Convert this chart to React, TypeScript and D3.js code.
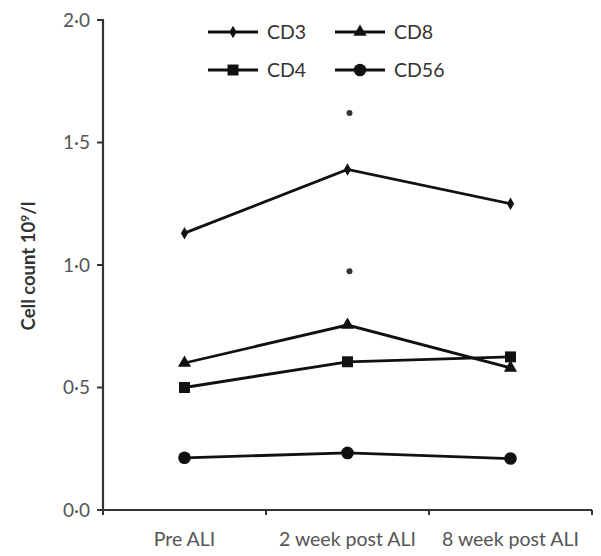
import React from "react";
import * as d3 from "d3";

const categories = ["Pre ALI", "2 week post ALI", "8 week post ALI"];
const cd3 = [1.13, 1.39, 1.25];
const cd8 = [0.6, 0.755, 0.58];
const cd4 = [0.5, 0.605, 0.625];
const cd56 = [0.213, 0.233, 0.21];
const outlierCategory = ["2 week post ALI", "2 week post ALI"];
const outlierValues = [1.62, 0.975];
const yTicks = [0, 0.5, 1.0, 1.5, 2.0];

const series = [
  { name: "CD3", values: cd3, symbol: d3.symbolDiamond, size: 45 },
  { name: "CD8", values: cd8, symbol: d3.symbolTriangle, size: 75 },
  { name: "CD4", values: cd4, symbol: d3.symbolSquare, size: 120 },
  { name: "CD56", values: cd56, symbol: d3.symbolCircle, size: 125 },
];

export default function App() {
  const W = 601, H = 556;
  const left = 103, right = 592, top = 20, bottom = 510;
  const x = d3.scaleBand().domain(categories).range([left, right]);
  const y = d3.scaleLinear().domain([0, 2]).range([bottom, top]);
  const cx = (c: string) => (x(c) as number) + x.bandwidth() / 2;
  const line = d3.line<number>().x((_, i) => cx(categories[i])).y((v) => y(v));
  const fmt = (v: number) => v.toFixed(1).replace(".", "·");
  const font = "Lato, 'Open Sans', 'DejaVu Sans', sans-serif";
  const legendPos = [
    { x: 208, y: 32 },
    { x: 335, y: 32 },
    { x: 208, y: 70 },
    { x: 335, y: 70 },
  ];
  const xTickPos = [left, ...categories.map((c) => (x(c) as number) + x.bandwidth())];
  return (
    <svg width={W} height={H} style={{ position: "absolute", left: 0, top: 0, background: "#fff" }}>
      {/* axes */}
      <line x1={left} y1={top - 1} x2={left} y2={bottom} stroke="#333" strokeWidth={2.2} />
      <line x1={left} y1={bottom} x2={right} y2={bottom} stroke="#333" strokeWidth={2.2} />
      {yTicks.map((t) => (
        <g key={t}>
          <line x1={left - 6} x2={left} y1={y(t)} y2={y(t)} stroke="#333" strokeWidth={2} />
          <text x={left - 13} y={y(t)} dy="0.36em" textAnchor="end" fontFamily={font} fontSize={19} fill="#555">
            {fmt(t)}
          </text>
        </g>
      ))}
      {xTickPos.map((p, i) => (
        <line key={i} x1={p} x2={p} y1={bottom} y2={bottom + 5} stroke="#333" strokeWidth={2} />
      ))}
      {categories.map((c) => (
        <text key={c} x={cx(c)} y={546} textAnchor="middle" fontFamily={font} fontSize={19.5} fill="#555">
          {c}
        </text>
      ))}
      <text
        transform={`translate(35,266) rotate(-90)`}
        textAnchor="middle"
        fontFamily={font}
        fontSize={18.5}
        fontWeight="bold"
        fill="#333"
      >
        Cell count 10<tspan dy={-6} fontSize={12}>9</tspan>
        <tspan dy={6}>/l</tspan>
      </text>
      {/* series */}
      {series.map((s) => (
        <g key={s.name}>
          <path d={line(s.values) || ""} fill="none" stroke="#111" strokeWidth={2.8} />
          {s.values.map((v, i) => (
            <path
              key={i}
              d={d3.symbol().type(s.symbol).size(s.size)() || ""}
              transform={`translate(${cx(categories[i])},${y(v)})`}
              fill="#111"
            />
          ))}
        </g>
      ))}
      {outlierValues.map((v, i) => (
        <circle key={i} cx={cx(outlierCategory[i]) + 2} cy={y(v)} r={3} fill="#333" />
      ))}
      {/* legend */}
      {series.map((s, i) => {
        const p = legendPos[i];
        return (
          <g key={s.name}>
            <line x1={p.x} x2={p.x + 50} y1={p.y} y2={p.y} stroke="#111" strokeWidth={2.8} />
            <path
              d={d3.symbol().type(s.symbol).size(s.size)() || ""}
              transform={`translate(${p.x + 25},${p.y})`}
              fill="#111"
            />
            <text x={p.x + 59} y={p.y} dy="0.36em" fontFamily={font} fontSize={19.5} fill="#333">
              {s.name}
            </text>
          </g>
        );
      })}
    </svg>
  );
}
